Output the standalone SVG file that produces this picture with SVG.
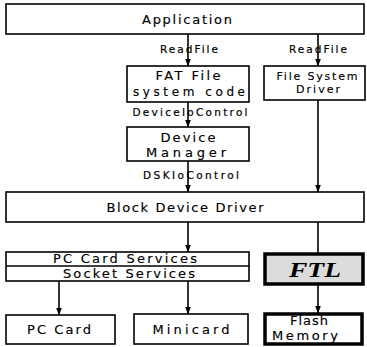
<svg xmlns="http://www.w3.org/2000/svg" width="367" height="347" viewBox="0 0 367 347">
<defs>
<style>
.box{fill:#fff;stroke:#000;stroke-width:1.6}
.thick{fill:#fff;stroke:#000;stroke-width:3.5}
.t{font-family:"DejaVu Sans",sans-serif;font-size:13px;text-anchor:middle;fill:#000;stroke:#000;stroke-width:0.15}
.l{font-family:"DejaVu Sans",sans-serif;font-size:10.5px;text-anchor:middle;fill:#000;stroke:#000;stroke-width:0.2}
.c{stroke:#000;stroke-width:1.6;fill:none}
</style>
<marker id="ah" markerWidth="8" markerHeight="6" refX="7.5" refY="3" orient="auto" markerUnits="userSpaceOnUse">
<path d="M0,0 L8,3 L0,6 Z" fill="#000"/>
</marker>
</defs>
<g id="connectors">
<line class="c" x1="188" y1="34" x2="188" y2="66" marker-end="url(#ah)"/>
<line class="c" x1="318" y1="34" x2="318" y2="66" marker-end="url(#ah)"/>
<line class="c" x1="188" y1="102" x2="188" y2="127" marker-end="url(#ah)"/>
<line class="c" x1="188" y1="161" x2="188" y2="192" marker-end="url(#ah)"/>
<line class="c" x1="318" y1="100" x2="318" y2="192" marker-end="url(#ah)"/>
<line class="c" x1="188" y1="222" x2="188" y2="252" marker-end="url(#ah)"/>
<line class="c" x1="318" y1="222" x2="318" y2="253"/>
<line class="c" x1="59" y1="281" x2="59" y2="315" marker-end="url(#ah)"/>
<line class="c" x1="188" y1="281" x2="188" y2="314" marker-end="url(#ah)"/>
<line class="c" x1="318" y1="285" x2="318" y2="313" marker-end="url(#ah)"/>
<text class="l" x="189" y="53" textLength="58" lengthAdjust="spacing">ReadFile</text>
<text class="l" x="318" y="53" textLength="58" lengthAdjust="spacing">ReadFile</text>
<text class="l" x="190" y="116" textLength="115" lengthAdjust="spacing">DeviceIoControl</text>
<text class="l" x="191" y="179" textLength="96" lengthAdjust="spacing">DSKIoControl</text>
</g>
<g id="application">
<rect class="box" x="6" y="4" width="358" height="30"/>
<text class="t" x="187" y="24" textLength="90" lengthAdjust="spacing">Application</text>
</g>
<g id="fat">
<rect class="box" x="127" y="66" width="122" height="36"/>
<text class="t" x="188" y="80" textLength="65" lengthAdjust="spacing">FAT File</text>
<text class="t" x="189" y="96" textLength="112" lengthAdjust="spacing" style="font-size:12px">system code</text>
</g>
<g id="fsd">
<rect class="box" x="264" y="66" width="101" height="34"/>
<text class="t" x="317" y="80" textLength="81" lengthAdjust="spacing" style="font-size:11px">File System</text>
<text class="t" x="318" y="93" textLength="44" lengthAdjust="spacing" style="font-size:11px">Driver</text>
</g>
<g id="devmgr">
<rect class="box" x="127" y="127" width="122" height="34"/>
<text class="t" x="188" y="142" textLength="55" lengthAdjust="spacing">Device</text>
<text class="t" x="186" y="157" textLength="80" lengthAdjust="spacing">Manager</text>
</g>
<g id="block">
<rect class="box" x="6" y="192" width="358" height="30"/>
<text class="t" x="185" y="212" textLength="157" lengthAdjust="spacing">Block Device Driver</text>
</g>
<g id="pccs">
<rect class="box" x="6" y="252" width="243" height="29"/>
<line class="c" x1="6" y1="266" x2="249" y2="266"/>
<text class="t" x="125" y="263" textLength="144" lengthAdjust="spacing">PC Card Services</text>
<text class="t" x="129" y="278" textLength="132" lengthAdjust="spacing">Socket Services</text>
</g>
<g id="ftl">
<rect class="thick" x="265" y="254" width="98" height="30" style="fill:#dcdcdc"/>
<text x="315" y="277" textLength="52" lengthAdjust="spacingAndGlyphs" style="font-family:'Liberation Serif',serif;font-size:22px;font-weight:bold;font-style:italic;text-anchor:middle">FTL</text>
</g>
<g id="pccard">
<rect class="box" x="6" y="315" width="109" height="29"/>
<text class="t" x="59" y="334" textLength="64" lengthAdjust="spacing">PC Card</text>
</g>
<g id="minicard">
<rect class="box" x="134" y="314" width="114" height="30"/>
<text class="t" x="191" y="334" textLength="77" lengthAdjust="spacing">Minicard</text>
</g>
<g id="flash">
<rect class="thick" x="265" y="314" width="97" height="30"/>
<text class="t" x="309" y="325" textLength="38" lengthAdjust="spacing">Flash</text>
<text class="t" x="305" y="340" textLength="66" lengthAdjust="spacing">Memory</text>
</g>
</svg>
